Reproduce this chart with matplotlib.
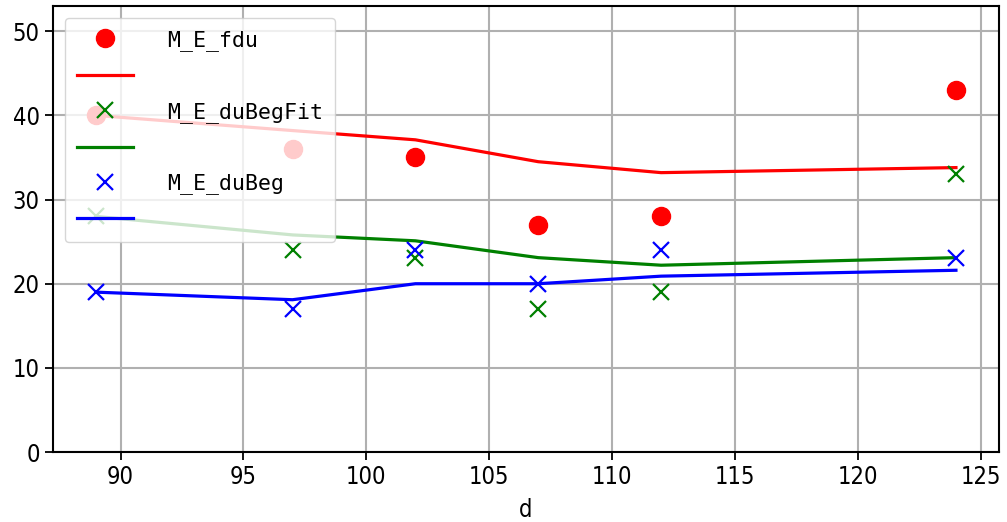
import matplotlib
matplotlib.use('Agg')
import matplotlib.pyplot as plt

# data
d = [89, 97, 102, 107, 112, 124]
fdu = [40, 36, 35, 27, 28, 43]
fdu_fit = [40, 38.2, 37.1, 34.5, 33.2, 33.8]
beg_fit = [28, 24, 23, 17, 19, 33]
beg_fit_line = [28, 25.8, 25.1, 23.1, 22.2, 23.1]
beg = [19, 17, 24, 20, 24, 23]
beg_line = [19, 18.1, 20, 20, 20.9, 21.6]

plt.rcParams['font.family'] = ['DejaVu Sans']
plt.rcParams['font.stretch'] = 'condensed'

fig = plt.figure(figsize=(10.07, 5.22), dpi=100)
ax = fig.add_axes([0.0526, 0.134, 0.9394, 0.8545])

ax.plot(d, fdu, 'o', color='red', markersize=13, label='M_E_fdu')
ax.plot(d, fdu_fit, '-', color='red', linewidth=2.3, label=' ')
ax.plot(d, beg_fit, 'x', color='green', markersize=12, markeredgewidth=1.6, label='M_E_duBegFit')
ax.plot(d, beg_fit_line, '-', color='green', linewidth=2.3, label='  ')
ax.plot(d, beg, 'x', color='blue', markersize=12, markeredgewidth=1.6, label='M_E_duBeg')
ax.plot(d, beg_line, '-', color='blue', linewidth=2.3, label='   ')

ax.set_ylim(0, 53)
ax.set_xlabel('d', fontsize=17, labelpad=6)
ax.grid(True, color='#b0b0b0', linewidth=1.5)
ax.tick_params(labelsize=17, length=6, width=1.3)
for s in ax.spines.values():
    s.set_linewidth(1.5)

ax.legend(loc='upper left', prop={'family': 'DejaVu Sans Mono', 'size': 15.5},
          handlelength=2.6, handletextpad=1.6, borderaxespad=0.55,
          borderpad=0.55, labelspacing=0.72, fancybox=True)

fig.savefig('out.png', dpi=100)
